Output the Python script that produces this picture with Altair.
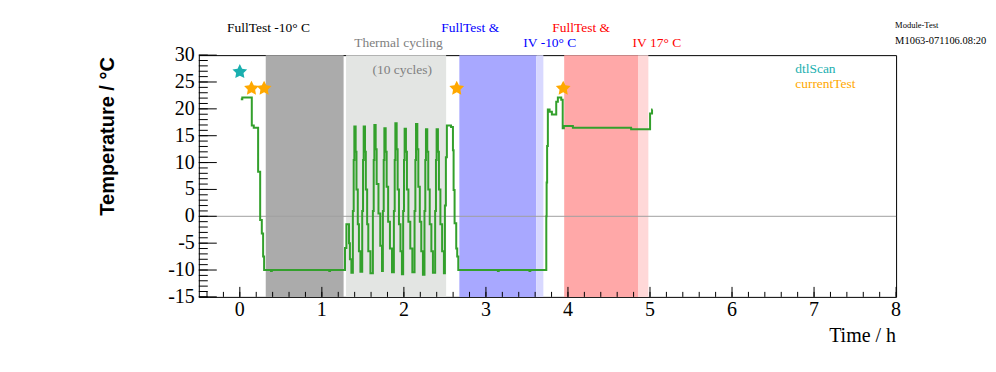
import math
import altair as alt
import pandas as pd

# ---------------- data ----------------
time_h = [
    0.012, 0.030, 0.146, 0.170, 0.223, 0.248, 0.268, 0.284, 0.296, 0.380, 0.390, 1.090, 1.100,
    1.282, 1.299, 1.331, 1.342,
    1.360, 1.378, 1.388, 1.396, 1.412, 1.422, 1.438, 1.452,
    1.470, 1.492, 1.502, 1.510, 1.526, 1.536, 1.552, 1.566,
    1.592, 1.622, 1.632, 1.640, 1.656, 1.668, 1.690, 1.712,
    1.733, 1.744, 1.754, 1.762, 1.778, 1.790, 1.808, 1.830,
    1.855, 1.878, 1.888, 1.896, 1.912, 1.924, 1.940, 1.958,
    1.976, 1.991, 2.001, 2.009, 2.025, 2.037, 2.055, 2.078,
    2.103, 2.130, 2.140, 2.148, 2.164, 2.176, 2.194, 2.212,
    2.232, 2.251, 2.261, 2.269, 2.285, 2.297, 2.315, 2.335,
    2.354, 2.381, 2.391, 2.399, 2.415, 2.427, 2.445, 2.466,
    2.488, 2.500, 2.512, 2.524, 2.575, 2.598, 2.606, 2.618, 2.638, 2.650, 2.663,
    3.146, 3.156, 3.531, 3.541,
    3.736, 3.740, 3.746, 3.755, 3.776, 3.804, 3.857, 3.877, 3.918, 3.936, 3.950, 4.060,
    4.770, 5.001, 5.025, 5.030,
]
temp_c = [
    21.8, 22.1, 16.9, 16.5, 8.3, -0.7, -3.2, -7.5, -10.0, -10.2, -10.0, -10.2, -10.0,
    -5.9, -1.5, -5.0, -8.0,
    -10.5, 1.0, 10.5, 16.7, 12.0, 5.0, -1.5, -6.5,
    -10.3, 1.0, 10.5, 16.7, 12.0, 5.0, -1.5, -6.5,
    -10.6, 1.0, 10.5, 17.0, 12.5, 6.0, 0.5, -5.5,
    -10.2, 1.0, 10.5, 16.4, 12.0, 5.5, -1.0, -6.0,
    -10.4, 1.0, 10.5, 17.3, 12.5, 5.0, -1.5, -6.5,
    -10.8, 1.0, 10.5, 16.3, 12.0, 5.0, -1.0, -6.0,
    -10.4, 1.0, 10.5, 17.2, 12.5, 5.5, -1.0, -6.5,
    -10.9, 1.0, 10.5, 16.2, 12.0, 5.0, -1.5, -6.5,
    -10.5, 1.0, 10.5, 16.2, 12.0, 5.0, -1.5, -6.5,
    -10.6, 2.0, 11.0, 16.9, 16.6, 12.3, 4.9, -1.3, -6.0, -7.5, -10.0,
    -10.2, -10.0, -10.2, -10.0,
    0.0, 6.3, 13.1, 19.9, 19.45, 18.97, 21.3, 22.1, 21.7, 16.4, 16.8, 16.5,
    16.2, 19.15, 19.9, 19.9,
]
assert len(time_h) == len(temp_c)

# test markers
dtl_t = [0.0]
dtl_T = [26.9]
cur_t = [0.142, 0.296, 2.644, 3.942]
cur_T = [23.8, 23.8, 23.8, 23.8]

# shaded test periods
region_start = [0.316, 1.295, 2.676, 3.613, 3.954, 4.854]
region_end = [1.265, 2.515, 3.613, 3.700, 4.854, 4.980]

# annotations (centered)
ann_text = ["FullTest -10° C", "Thermal cycling", "(10 cycles)", "FullTest &",
            "IV -10° C", "FullTest &", "IV 17° C"]
ann_t = [0.349, 1.934, 1.979, 2.809, 3.779, 4.161, 5.084]
ann_T = [35.14, 32.17, 27.2, 35.14, 32.17, 35.14, 32.17]
ann_color = ["#000000", "#808080", "#808080", "#0000ff", "#0000ff", "#ff0000", "#ff0000"]

# left-aligned texts (legend + module id)
lt_text = ["dtlScan", "currentTest", "Module-Test", "M1063-071106.08:20"]
lt_t = [6.770, 6.770, 7.988, 7.988]
lt_T = [27.33, 24.54, 35.57, 32.6]
lt_color = ["#1aafaf", "#ffa800", "#000000", "#000000"]
lt_size = [13.5, 13.5, 8.5, 10.5]

x_major = [0, 1, 2, 3, 4, 5, 6, 7, 8]
x_labels = ["0", "1", "2", "3", "4", "5", "6", "7", "8"]
y_major = [-15, -10, -5, 0, 5, 10, 15, 20, 25, 30]
y_labels = ["-15", "-10", "-5", "0", "5", "10", "15", "20", "25", "30"]
x_minor = [round(-0.4 + 0.2 * i, 2) for i in range(43)]
y_minor = list(range(-15, 31))

# ---------------- layout / style ----------------
PLOT_W, PLOT_H = 698, 242
X_DOMAIN = [-0.5, 8]
Y_DOMAIN = [-15, 30]

xs = alt.Scale(domain=X_DOMAIN, nice=False, zero=False)
ys = alt.Scale(domain=Y_DOMAIN, nice=False, zero=False)

# five-pointed star symbol path
_pts = []
for k in range(10):
    ang = math.radians(-90 + 36 * k)
    r = 1.0 if k % 2 == 0 else 0.5
    _pts.append(f"{r * math.cos(ang):.3f},{r * math.sin(ang):.3f}")
STAR = "M" + " L".join(_pts) + " Z"

# average tones of the hatched ROOT fill styles
region_fills = ["#ababab", "#e3e5e3", "#a8a8ff", "#d8d8ff", "#ffa8a8", "#ffd8d8"]

X = lambda f: alt.X(f, scale=xs, axis=None)
Y = lambda f: alt.Y(f, scale=ys, axis=None)


def box(x0, x1, fill):
    df_r = pd.DataFrame({"x0": [x0], "x1": [x1], "y0": [Y_DOMAIN[0]], "y1": [Y_DOMAIN[1]]})
    return alt.Chart(df_r).mark_rect(fill=fill).encode(
        x=X("x0:Q"), x2="x1:Q", y=Y("y0:Q"), y2="y1:Q")


layers = [box(region_start[i], region_end[i], region_fills[i]) for i in range(len(region_start))]

zero_df = pd.DataFrame({"zero": [0.0]})
layers.append(alt.Chart(zero_df).mark_rule(color="#a0a0a0", strokeWidth=1).encode(y=Y("zero:Q")))

# inward-pointing ticks
for vals, size in ((x_minor, 5), (x_major, 10)):
    layers.append(
        alt.Chart(pd.DataFrame({"v": vals})).mark_rule(color="black", strokeWidth=1).encode(
            x=X("v:Q"), y=alt.value(PLOT_H), y2=alt.value(PLOT_H - size)))
for vals, size in ((y_minor, 9), (y_major, 18)):
    layers.append(
        alt.Chart(pd.DataFrame({"v": vals})).mark_rule(color="black", strokeWidth=1).encode(
            y=Y("v:Q"), x=alt.value(0), x2=alt.value(size)))

# tick labels and axis titles
layers.append(
    alt.Chart(pd.DataFrame({"v": x_major, "lab": x_labels})).mark_text(
        font="Liberation Serif", fontSize=20, baseline="middle", align="center", color="black"
    ).encode(x=X("v:Q"), y=alt.value(PLOT_H + 13), text="lab:N"))
layers.append(
    alt.Chart(pd.DataFrame({"v": y_major, "lab": y_labels})).mark_text(
        font="Liberation Serif", fontSize=20, baseline="middle", align="right", color="black"
    ).encode(y=Y("v:Q"), x=alt.value(-4), text="lab:N"))
layers.append(
    alt.Chart(pd.DataFrame({"lab": ["Time / h"]})).mark_text(
        font="Liberation Serif", fontSize=20, baseline="alphabetic", align="right", color="black"
    ).encode(x=alt.value(PLOT_W), y=alt.value(PLOT_H + 45), text="lab:N"))
layers.append(
    alt.Chart(pd.DataFrame({"lab": ["Temperature / °C"]})).mark_text(
        font="Liberation Sans", fontSize=20, fontWeight="bold", baseline="bottom",
        align="right", angle=270, color="black"
    ).encode(x=alt.value(-81), y=alt.value(2), text="lab:N"))

line_df = pd.DataFrame({"tm": time_h, "temp": temp_c})
layers.append(
    alt.Chart(line_df).mark_line(interpolate="step-after", color="#33a02c", strokeWidth=2).encode(
        x=X("tm:Q"), y=Y("temp:Q")))

layers.append(
    alt.Chart(pd.DataFrame({"sx": dtl_t, "sy": dtl_T})).mark_point(
        shape=STAR, filled=True, size=240, opacity=1, color="#1aafaf"
    ).encode(x=X("sx:Q"), y=Y("sy:Q")))
layers.append(
    alt.Chart(pd.DataFrame({"sx": cur_t, "sy": cur_T})).mark_point(
        shape=STAR, filled=True, size=240, opacity=1, color="#ffa800"
    ).encode(x=X("sx:Q"), y=Y("sy:Q")))

ann_df = pd.DataFrame({"ax": ann_t, "ay": ann_T, "label": ann_text, "col": ann_color})
layers.append(
    alt.Chart(ann_df).mark_text(font="Liberation Serif", fontSize=13.5, align="center",
                                baseline="middle").encode(
        x=X("ax:Q"), y=Y("ay:Q"), text="label:N", color=alt.Color("col:N", scale=None)))

lt_df = pd.DataFrame({"ax": lt_t, "ay": lt_T, "label": lt_text, "col": lt_color, "fs": lt_size})
layers.append(
    alt.Chart(lt_df).mark_text(font="Liberation Serif", align="left", baseline="middle").encode(
        x=X("ax:Q"), y=Y("ay:Q"), text="label:N",
        color=alt.Color("col:N", scale=None), size=alt.Size("fs:Q", scale=None)))

chart = (
    alt.layer(*layers)
    .properties(
        width=PLOT_W, height=PLOT_H,
        padding={"left": 191, "top": 47, "right": 92, "bottom": 60},
        autosize=alt.AutoSizeParams(type="none"),
        background="white",
    )
    .configure_view(stroke="black", strokeWidth=1)
)

chart.save("out.html", embed_options={"renderer": "svg", "actions": False})
